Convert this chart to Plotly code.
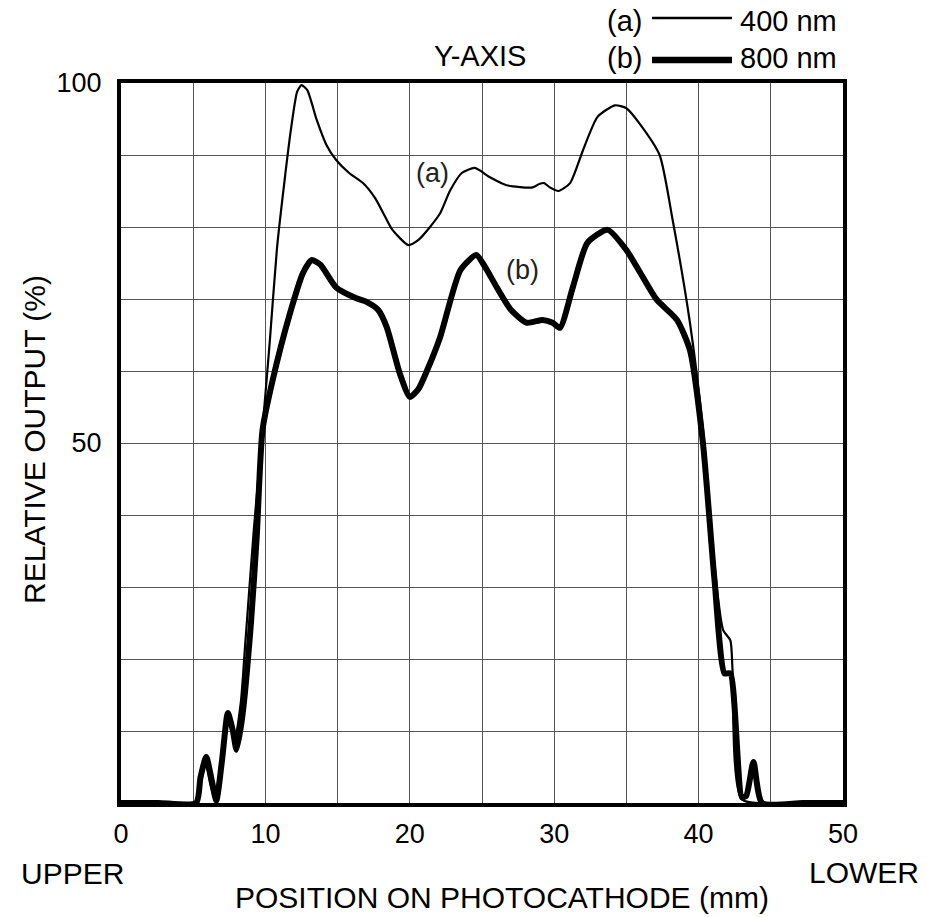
import plotly.graph_objects as go

# Curve (a): 400 nm
pos_a = [0, 2.6, 5.2, 5.5, 5.85, 6.2, 6.5, 6.9, 7.3, 7.6, 7.9, 8.3, 8.6, 9.2, 9.8, 10.3, 10.8,
         11.3, 11.8, 12.2, 12.5, 12.9, 13.55, 14.2, 14.9, 15.8, 16.76, 17.6, 18.4, 18.8,
         19.9, 20.6, 21.4, 22.1, 22.8, 23.6, 24.5, 25.55, 26.7, 28.5, 29.0, 29.3, 29.7,
         30.3, 31.1, 32.0, 33.0, 34.2, 35.0, 35.9, 37.3, 38.2, 39.4, 40.3, 41.1, 41.7,
         42.2, 42.35, 43.0, 46.5, 50]
out_a = [0, 0, 0, 3, 5.5, 2.5, 0.5, 5.5, 11, 11, 9, 14, 22, 38, 52, 64, 77,
         86, 94, 98.8, 99.7, 99, 94.9, 91.5, 89.3, 87.5, 86.1, 84, 81, 79.6,
         77.5, 78.2, 80, 81.9, 85.1, 87.5, 88.2, 86.9, 85.8, 85.5, 86.0, 86.1, 85.5,
         85, 86.1, 90.7, 95.3, 96.9, 96.5, 94.4, 90, 81, 66.7, 52, 33, 24,
         22.6, 18.5, 0.5, 0, 0]

# Curve (b): 800 nm
pos_b = [0, 2.6, 5.2, 5.5, 5.9, 6.3, 6.6, 7.0, 7.4, 7.75, 8.0, 8.4, 9.0, 9.4, 9.8, 10.5, 11.7,
         12.6, 13.2, 13.8, 14.9, 16.3, 17.0, 17.8, 18.4, 19.3, 20.0, 20.6, 21.2, 22.1,
         23.5, 24.6, 25.2, 26.0, 27.0, 28.1, 29.2, 29.9, 30.4, 31.3, 32.3, 33.7, 35.0,
         36.0, 37.1, 38.5, 39.4, 40.3, 41.1, 41.8, 42.2, 43.0, 43.3, 43.8, 44.4, 47.2, 50]
out_b = [0, 0, 0, 3.5, 6.4, 3, 0.3, 6, 12.5, 10, 7.4, 12, 25, 37, 51.8, 58.7, 68,
         73.6, 75.4, 74.8, 71.6, 70.1, 69.6, 68.5, 66.1, 59.7, 56.4, 57.5, 60.1, 64.7,
         74, 76.1, 74.5, 71.7, 68.5, 66.7, 67.1, 66.7, 66, 71.7, 77.8, 79.6, 76.8,
         73.5, 69.9, 67.1, 62.9, 50, 31, 18, 18, 0.8, 1.0, 5.7, 0, 0, 0]

x_tick_vals = [0, 10, 20, 30, 40, 50]
y_tick_vals = [50, 100]

FONT = "Liberation Sans, Arial, sans-serif"

fig = go.Figure()
fig.add_trace(go.Scatter(x=pos_a, y=out_a, mode="lines",
                         line=dict(color="black", width=2.2, shape="spline", smoothing=0.6),
                         showlegend=False, hoverinfo="skip"))
fig.add_trace(go.Scatter(x=pos_b, y=out_b, mode="lines",
                         line=dict(color="black", width=6, shape="spline", smoothing=0.6),
                         showlegend=False, hoverinfo="skip"))

L, R, T, B = 121, 84, 83, 114
W, H = 927, 917
PW, PH = W - L - R, H - T - B


def px(xp):
    return (xp - L) / PW


def py(yp):
    return (H - B - yp) / PH


annotations = [
    dict(text="RELATIVE OUTPUT (%)", x=px(34), y=py(440), textangle=-90, size=30),
    dict(text="POSITION ON PHOTOCATHODE (mm)", x=px(502), y=py(897), size=30),
    dict(text="UPPER", x=px(72), y=py(873), size=30),
    dict(text="LOWER", x=px(864), y=py(872), size=30),
    dict(text="Y-AXIS", x=px(480), y=py(56), size=29),
    dict(text="(a)", x=px(624), y=py(21), size=29),
    dict(text="(b)", x=px(624), y=py(58), size=29),
    dict(text="400 nm", x=px(788), y=py(21), size=29),
    dict(text="800 nm", x=px(788), y=py(58), size=29),
    dict(text="(a)", x=px(432), y=py(173), size=27, color="#222"),
    dict(text="(b)", x=px(522), y=py(270), size=27, color="#222"),
]

fig.update_layout(
    width=W, height=H,
    margin=dict(l=L, r=R, t=T, b=B, pad=0),
    paper_bgcolor="white", plot_bgcolor="white",
    font=dict(family=FONT, color="black"),
    annotations=[dict(text=a["text"], x=a["x"], y=a["y"], xref="paper", yref="paper",
                      showarrow=False, textangle=a.get("textangle", 0),
                      xanchor="center", yanchor="middle",
                      font=dict(family=FONT, size=a["size"], color=a.get("color", "black")))
                 for a in annotations],
    shapes=[
        dict(type="line", xref="paper", yref="paper", x0=px(652), x1=px(732),
             y0=py(18), y1=py(18), line=dict(color="black", width=2.5)),
        dict(type="line", xref="paper", yref="paper", x0=px(652), x1=px(732),
             y0=py(60), y1=py(60), line=dict(color="black", width=6.5)),
    ],
)

fig.update_xaxes(range=[0, 50], tickvals=x_tick_vals, ticks="", showgrid=True,
                 gridcolor="#555", gridwidth=1.2,
                 minor=dict(dtick=5, showgrid=True, gridcolor="#555", gridwidth=1.2),
                 showline=True, mirror=True, linecolor="black", linewidth=4,
                 zeroline=False, tickfont=dict(size=27, family=FONT),
                 ticklabelstandoff=4, fixedrange=True)
fig.update_yaxes(range=[0, 100], tickvals=y_tick_vals, ticks="", showgrid=True,
                 gridcolor="#555", gridwidth=1.2,
                 minor=dict(dtick=10, showgrid=True, gridcolor="#555", gridwidth=1.2),
                 showline=True, mirror=True, linecolor="black", linewidth=4,
                 zeroline=False, tickfont=dict(size=27, family=FONT),
                 ticklabelstandoff=10, fixedrange=True)

fig.write_html("out.html",
               config={"displayModeBar": False},
               post_script="document.body.style.margin='0';document.body.style.overflow='hidden';")
